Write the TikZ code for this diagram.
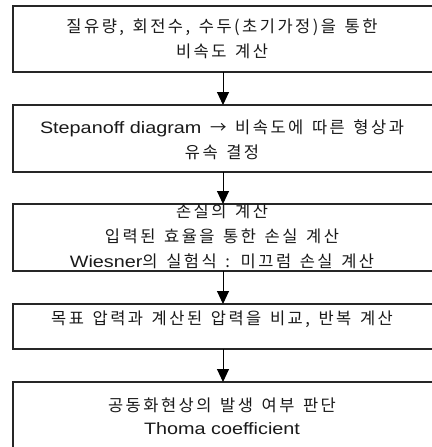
\documentclass[tikz,border=0pt]{standalone}
\usepackage{fontspec}
\setmainfont{Noto Sans CJK KR}[LetterSpace=15,WordSpace=1.4]
\newfontfamily\lat{Liberation Sans}[FakeStretch=1.2]
\usetikzlibrary{arrows.meta}
\begin{document}
\begin{tikzpicture}[x=1pt,y=1pt,
  stagebox/.style={draw=black!85, line width=1.2pt, minimum width=420pt, anchor=north west, inner sep=0pt, outer sep=0pt},
  txt/.style={align=center, font=\fontsize{16.5}{25}\selectfont, inner sep=0pt, text=black!90},
  flow/.style={line width=1pt, -{Triangle[width=12pt,length=13pt]}}]
\useasboundingbox (0,0) rectangle (431,-447);
\node[stagebox, minimum height=66pt] (b1) at (13,-6) {};
\node[stagebox, minimum height=67pt] (b2) at (13,-105) {};
\node[stagebox, minimum height=67pt] (b3) at (13,-204) {};
\node[stagebox, minimum height=45pt] (b4) at (13,-304) {};
\node[stagebox, minimum height=80pt] (b5) at (13,-382) {};
\node[txt] (t1) at (222,-39) {질유량, 회전수, 수두(초기가정)을 통한\\비속도 계산};
\node[txt] (t2) at (222,-140) {{\lat Stepanoff diagram} → 비속도에 따른 형상과\\유속 결정};
\node[txt] (t3) at (222,-236) {손실의 계산\\입력된 효율을 통한 손실 계산\\{\lat Wiesner}의 실험식 : 미끄럼 손실 계산};
\node[txt] (t4) at (222,-319) {목표 압력과 계산된 압력을 비교, 반복 계산};
\node[txt, font=\fontsize{16.5}{23}\selectfont] (t5) at (222,-416) {공동화현상의 발생 여부 판단\\{\lat Thoma coefficient}};
\draw[flow] (b1.south) -- (b2.north);
\draw[flow] (b2.south) -- (b3.north);
\draw[flow] (b3.south) -- (b4.north);
\draw[flow] (b4.south) -- (b5.north);
\end{tikzpicture}
\end{document}
